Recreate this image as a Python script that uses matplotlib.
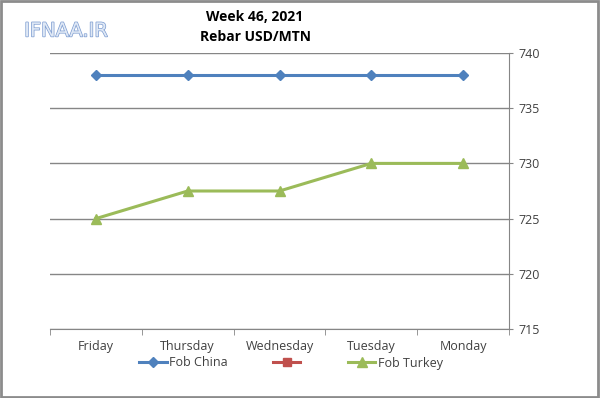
import matplotlib
matplotlib.use("Agg")
import matplotlib.pyplot as plt
import matplotlib.patheffects as pe
import numpy as np
from matplotlib.patches import Rectangle

categories = ["Friday", "Thursday", "Wednesday", "Tuesday", "Monday"]
fob_china = [738, 738, 738, 738, 738]
fob_other = [np.nan, np.nan, np.nan, np.nan, np.nan]
fob_turkey = [725, 727.5, 727.5, 730, 730]
yticks = [715, 720, 725, 730, 735, 740]

plt.rcParams['font.family'] = ['Open Sans', 'DejaVu Sans']

fig = plt.figure(figsize=(6.0, 3.98), dpi=100)
ax = fig.add_axes([50/600, 1-329/398, (509-50)/600, (329-53)/398])

x = np.arange(len(categories))
h1, = ax.plot(x, fob_china, color="#4f81bd", lw=2.2, marker="D", ms=5, label="Fob China")
h2, = ax.plot(x, fob_other, color="#c0504d", lw=2.2, marker="s", ms=6, label="")
h3, = ax.plot(x, fob_turkey, color="#9bbb59", lw=2.2, marker="^", ms=7, label="Fob Turkey")

ax.set_xlim(-0.5, len(categories) - 0.5)
ax.set_ylim(715, 740)
ax.set_yticks(yticks)
ax.set_yticklabels([str(v) for v in yticks], fontsize=9, color="#404040")
ax.yaxis.tick_right()
ax.tick_params(axis="y", length=3, color="#868686", pad=4)
ax.grid(axis="y", color="#868686", lw=1)
ax.set_axisbelow(True)

ax.set_xticks(x)
ax.set_xticklabels(categories, fontsize=9, color="#404040")
ax.tick_params(axis="x", length=0, pad=8)
ax.set_xticks(np.arange(-0.5, len(categories)), minor=True)
ax.tick_params(axis="x", which="minor", length=4, color="#868686")

for s in ["top", "left"]:
    ax.spines[s].set_visible(False)
ax.spines["right"].set_color("#868686")
ax.spines["bottom"].set_color("#868686")

leg = fig.legend([h1, h2, h3], ["Fob China", "", "Fob Turkey"], loc="center",
                 bbox_to_anchor=(291/600, 1-363/398), ncol=3, frameon=False,
                 fontsize=9, handlelength=2.2, handletextpad=0.2, columnspacing=3.6,
                 borderpad=0)
for t in leg.get_texts():
    t.set_color("#404040")

fig.text(255/600, 1-17/398, "Week 46, 2021", ha="center", va="center",
         fontsize=10, fontweight="bold", color="#000000")
fig.text(255/600, 1-37/398, "Rebar USD/MTN", ha="center", va="center",
         fontsize=10, fontweight="bold", color="#000000")

logo = fig.text(66/600, 1-31/398, "IFNAA.IR", ha="center", va="center",
                fontsize=14, color="#dfe8f5", family=["DejaVu Sans"])
logo.set_path_effects([pe.withStroke(linewidth=1.0, foreground="#7b9bd0")])

fig.patches.append(Rectangle((0.002, 0.003), 0.994, 0.994, transform=fig.transFigure,
                             fill=False, edgecolor="#8c8c8c", lw=2))

fig.savefig("out.png", dpi=100)
